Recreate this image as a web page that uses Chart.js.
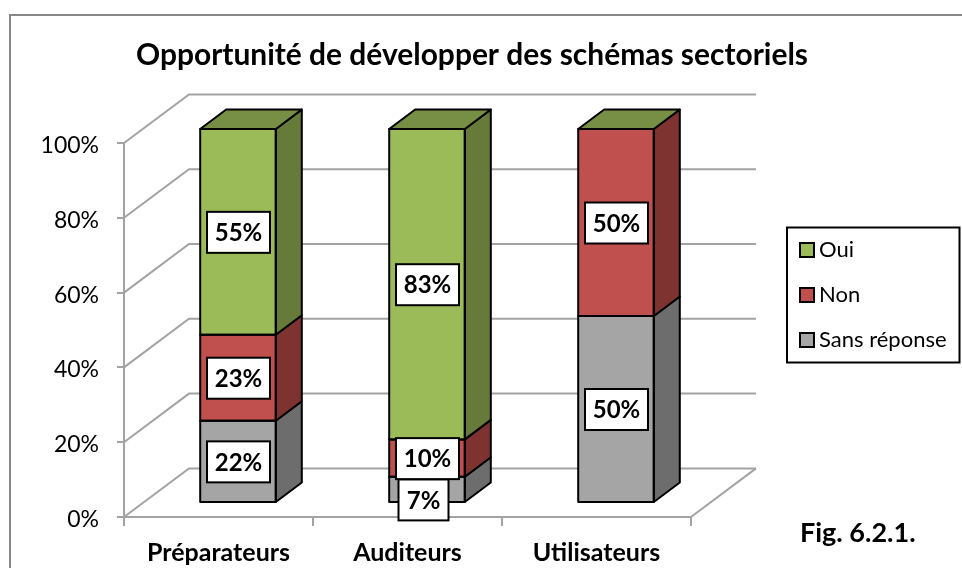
<!DOCTYPE html>
<html lang="fr">
<head>
<meta charset="utf-8">
<title>Opportunité de développer des schémas sectoriels</title>
<script src="https://cdn.jsdelivr.net/npm/chart.js@4"></script>
<style>
  html, body { margin: 0; padding: 0; background: #fff; }
  canvas { display: block; }
</style>
</head>
<body>
<canvas id="chart" width="962" height="568"></canvas>
<script>
const categories = ['Préparateurs', 'Auditeurs', 'Utilisateurs'];
const sansReponse = [22, 7, 50];
const non = [23, 10, 50];
const oui = [55, 83, 0];
const yTicks = [0, 20, 40, 60, 80, 100];

const frontColors = ['#A5A5A5', '#C0504D', '#9BBB59'];
const sideColors = ['#6D6D6D', '#7F3331', '#667A39'];
const topColors = ['#7C7C7C', '#903D3A', '#778F44'];

const FONT = 'Lato, Carlito, sans-serif';
const GRID = '#A3A3A3';
const wall = { dx: 65, dy: -48.6 };   // profondeur du fond du graphique
const bar3d = { dx: 19.5, dy: -14, depthX: 26, depthY: -19.5 };

// les ticks de l'axe Y sont forcés sur 0, 20, ... 100
function forceTicks(scale) {
    scale.ticks = yTicks.map(v => ({ value: v }));
}

const wallPlugin = {
    id: 'wall',
    afterLayout(chart) {
        // le titre de l'original n'est pas centré sur le canvas
        chart.titleBlock.left = 136;
        chart.titleBlock.right = 808;
    },
    beforeDatasetsDraw(chart) {
        const { ctx, chartArea, scales } = chart;
        const { left, right, bottom } = chartArea;
        ctx.save();
        ctx.strokeStyle = GRID;
        ctx.lineWidth = 2;
        yTicks.forEach(v => {
            const y = scales.y.getPixelForValue(v);
            ctx.beginPath();
            ctx.moveTo(left, y);
            ctx.lineTo(left + wall.dx, y + wall.dy);
            ctx.lineTo(right + wall.dx, y + wall.dy);
            ctx.stroke();
        });
        ctx.beginPath();
        ctx.moveTo(right, bottom);
        ctx.lineTo(right + wall.dx, bottom + wall.dy);
        ctx.stroke();
        ctx.restore();

        // les barres sont décalées vers le fond
        ctx.save();
        ctx.translate(bar3d.dx, bar3d.dy);
    },
    afterDatasetsDraw(chart) {
        const { ctx, data } = chart;
        ctx.strokeStyle = '#000';
        ctx.lineWidth = 2;
        ctx.lineJoin = 'round';
        data.datasets.forEach((ds, i) => {
            chart.getDatasetMeta(i).data.forEach(el => {
                const p = el.getProps(['x', 'y', 'base', 'width'], true);
                const xl = p.x - p.width / 2;
                const xr = p.x + p.width / 2;
                if (p.base - p.y > 0) {
                    ctx.fillStyle = sideColors[i];
                    ctx.beginPath();
                    ctx.moveTo(xr, p.y);
                    ctx.lineTo(xr + bar3d.depthX, p.y + bar3d.depthY);
                    ctx.lineTo(xr + bar3d.depthX, p.base + bar3d.depthY);
                    ctx.lineTo(xr, p.base);
                    ctx.closePath();
                    ctx.fill();
                    ctx.stroke();
                    ctx.strokeRect(xl, p.y, p.width, p.base - p.y);
                }
            });
        });
        // le dessus de la pile garde la couleur de la dernière série
        const last = data.datasets.length - 1;
        chart.getDatasetMeta(last).data.forEach(el => {
            const p = el.getProps(['x', 'y', 'base', 'width'], true);
            const xl = p.x - p.width / 2;
            const xr = p.x + p.width / 2;
            ctx.fillStyle = topColors[last];
            ctx.beginPath();
            ctx.moveTo(xl, p.y);
            ctx.lineTo(xl + bar3d.depthX, p.y + bar3d.depthY);
            ctx.lineTo(xr + bar3d.depthX, p.y + bar3d.depthY);
            ctx.lineTo(xr, p.y);
            ctx.closePath();
            ctx.fill();
            ctx.stroke();
        });
        ctx.restore();
    }
};

const labelPlugin = {
    id: 'valueLabels',
    afterDraw(chart) {
        const { ctx, data } = chart;
        ctx.save();
        ctx.font = 'bold 24px ' + FONT;
        ctx.textAlign = 'center';
        ctx.textBaseline = 'middle';
        data.datasets.forEach((ds, i) => {
            chart.getDatasetMeta(i).data.forEach((el, j) => {
                const v = ds.data[j];
                if (!v) return;
                const p = el.getProps(['x', 'y', 'base'], true);
                // le 7% a été déplacé à la main dans l'original
                const moved = v === 7;
                const cx = p.x + bar3d.dx + (moved ? -3.5 : 0.5);
                const cy = (p.y + p.base) / 2 + bar3d.dy + (moved ? 10.5 : 0.5);
                const w = v < 10 ? 50 : 63;
                ctx.fillStyle = '#fff';
                ctx.strokeStyle = '#000';
                ctx.lineWidth = 2;
                ctx.fillRect(cx - w / 2, cy - 20.5, w, 41);
                ctx.strokeRect(cx - w / 2, cy - 20.5, w, 41);
                ctx.fillStyle = '#000';
                ctx.fillText(v + '%', cx, cy + 1);
            });
        });
        ctx.restore();
    }
};

const framePlugin = {
    id: 'frame',
    beforeDraw(chart) {
        const { ctx } = chart;
        ctx.save();
        ctx.fillStyle = '#fff';
        ctx.fillRect(0, 0, 962, 568);
        ctx.strokeStyle = '#868686';
        ctx.lineWidth = 2;
        ctx.beginPath();
        ctx.moveTo(10, 568);
        ctx.lineTo(10, 15);
        ctx.lineTo(962, 15);
        ctx.stroke();
        ctx.restore();
    }
};

const legendPlugin = {
    id: 'boxLegend',
    afterDraw(chart) {
        const { ctx, data } = chart;
        ctx.save();
        ctx.fillStyle = '#fff';
        ctx.strokeStyle = '#000';
        ctx.lineWidth = 2;
        ctx.fillRect(787, 227.5, 172.5, 135);
        ctx.strokeRect(787, 227.5, 172.5, 135);
        ctx.font = '22px ' + FONT;
        ctx.textBaseline = 'middle';
        // ordre inversé : Oui en haut
        [...data.datasets].reverse().forEach((ds, i) => {
            const y = 250 + i * 45;
            ctx.fillStyle = ds.backgroundColor;
            ctx.fillRect(800, y - 7, 14, 14);
            ctx.strokeRect(800, y - 7, 14, 14);
            ctx.fillStyle = '#000';
            ctx.fillText(ds.label, 819, y);
        });
        ctx.font = 'bold 27px ' + FONT;
        ctx.fillText('Fig. 6.2.1.', 800, 533);
        ctx.restore();
    }
};

const barStyle = {
    borderWidth: 0,
    barPercentage: 1,
    categoryPercentage: 0.4
};

new Chart(document.getElementById('chart'), {
    type: 'bar',
    data: {
        labels: categories,
        datasets: [
            { label: 'Sans réponse', data: sansReponse, backgroundColor: frontColors[0], ...barStyle },
            { label: 'Non', data: non, backgroundColor: frontColors[1], ...barStyle },
            { label: 'Oui', data: oui, backgroundColor: frontColors[2], ...barStyle }
        ]
    },
    options: {
        responsive: false,
        animation: false,
        layout: { padding: { left: 0, right: 271, top: 0, bottom: 0 } },
        plugins: {
            legend: { display: false },
            tooltip: { enabled: false },
            title: {
                display: true,
                text: 'Opportunité de développer des schémas sectoriels',
                color: '#000',
                font: { family: FONT, size: 30, weight: 'bold', lineHeight: 1 },
                padding: { top: 40, bottom: 73 }
            }
        },
        scales: {
            x: {
                stacked: true,
                afterFit(scale) { scale.height = 51; },
                grid: { drawOnChartArea: false, color: GRID, tickColor: GRID, tickLength: 9, lineWidth: 2 },
                border: { color: GRID, width: 2 },
                ticks: {
                    color: '#000',
                    padding: 12,
                    maxRotation: 0,
                    font: { family: FONT, size: 25, weight: 'bold' }
                }
            },
            y: {
                stacked: true,
                min: 0,
                max: 100,
                afterBuildTicks: forceTicks,
                afterFit(scale) { scale.width = 124; },
                grid: { drawOnChartArea: false, color: GRID, tickColor: GRID, tickLength: 7, lineWidth: 2 },
                border: { color: GRID, width: 2 },
                ticks: {
                    color: '#000',
                    padding: 18,
                    labelOffset: 2.5,
                    font: { family: FONT, size: 23 },
                    callback: v => v + '%'
                }
            }
        }
    },
    plugins: [framePlugin, wallPlugin, labelPlugin, legendPlugin]
});
</script>
</body>
</html>
